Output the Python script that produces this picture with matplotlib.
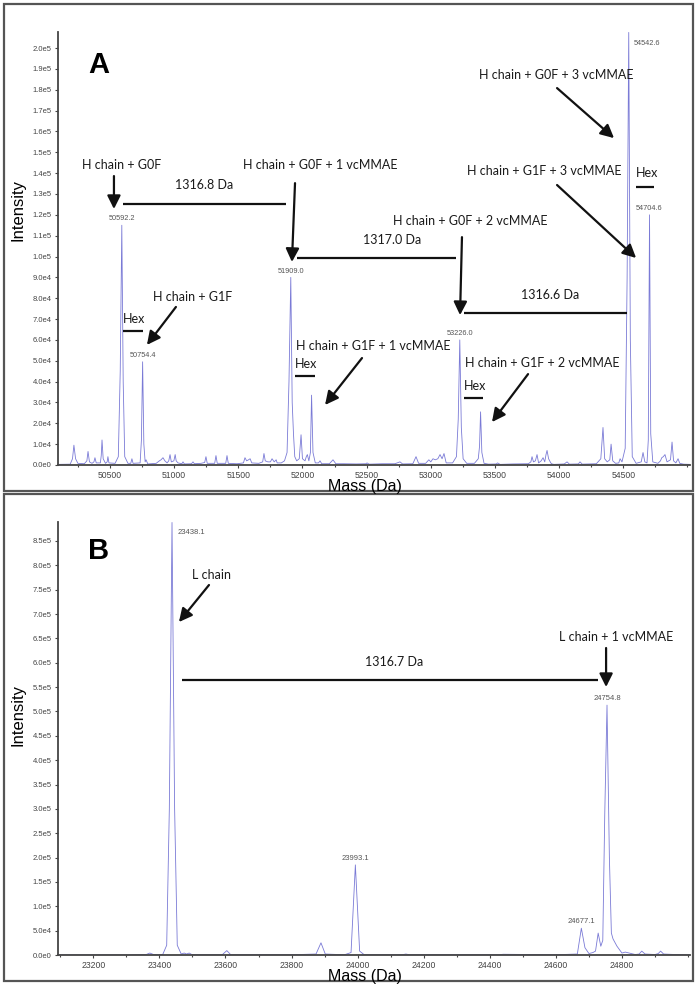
import numpy as np
import matplotlib
matplotlib.use("Agg")
import matplotlib.pyplot as plt
from matplotlib.patches import Rectangle
from matplotlib.ticker import FuncFormatter, MultipleLocator

plt.rcParams['font.family'] = ['Liberation Sans', 'DejaVu Sans']

# ---- Panel A: H chain deconvoluted spectrum (mass in Da, intensity in counts/1000)
a_mass = [50095, 50190, 50208, 50219, 50232, 50250, 50300, 50320, 50329, 50340, 50360, 50375, 50383,
          50393, 50425, 50432, 50438, 50447, 50465, 50478, 50484, 50492, 50540, 50565, 50580, 50592.2,
          50603, 50615, 50640, 50662, 50671, 50680, 50735, 50745, 50754.4, 50764, 50774, 50781, 50795,
          50860, 50885, 50898, 50913, 50928, 50945, 50958, 50968, 50978, 50998, 51008, 51016, 51030,
          51060, 51069, 51080, 51135, 51147, 51158, 51210, 51238, 51248, 51258, 51316, 51326, 51336,
          51402, 51412, 51422, 51490, 51540, 51552, 51565, 51580, 51592, 51605, 51660, 51690, 51700,
          51710, 51730, 51750, 51763, 51780, 51795, 51803, 51835, 51860, 51880, 51895, 51909.0, 51920,
          51930, 51940, 51955, 51975, 51989, 52000, 52020, 52030, 52038, 52050, 52062, 52071, 52082,
          52100, 52125, 52137, 52150, 52210, 52238, 52260, 52320, 52420, 52495, 52503, 52520, 52620,
          52720, 52760, 52780, 52860, 52885, 52905, 52960, 52985, 53000, 53017, 53035, 53055, 53072,
          53088, 53103, 53120, 53170, 53200, 53214, 53226.0, 53238, 53252, 53280, 53340, 53370, 53380,
          53388, 53398, 53415, 53450, 53510, 53520, 53540, 53640, 53760, 53780, 53789, 53800, 53815,
          53828, 53840, 53860, 53875, 53888, 53898, 53906, 53918, 53935, 53945, 53960, 54040, 54062,
          54080, 54150, 54163, 54180, 54290, 54325, 54342, 54355, 54375, 54395, 54405, 54418, 54440,
          54465, 54475, 54490, 54515, 54530, 54542.6, 54555, 54570, 54600, 54640, 54654, 54668, 54685,
          54695, 54704.6, 54714, 54730, 54770, 54790, 54800, 54812, 54825, 54841, 54855, 54868, 54880,
          54892, 54910, 54927, 54940, 54970, 55020]
a_int = [0.3, 0.4, 3.0, 9.5, 3.0, 0.8, 0.6, 2.0, 6.5, 1.5, 0.8, 1.5, 3.5,
         1.0, 1.0, 4.5, 12.0, 3.0, 0.8, 1.5, 4.0, 1.0, 0.8, 4.0, 45.0, 115.0,
         40.0, 4.0, 0.8, 0.8, 3.0, 0.8, 1.0, 12.0, 49.5, 10.0, 1.5, 2.5, 0.5,
         0.8, 2.0, 2.5, 3.5, 2.0, 1.0, 2.0, 5.0, 1.5, 2.0, 5.0, 2.0, 1.0,
         0.6, 1.5, 0.5, 0.6, 1.5, 0.6, 0.8, 1.2, 4.0, 0.8, 0.8, 4.5, 0.8,
         0.8, 4.5, 0.8, 0.6, 1.0, 3.5, 2.0, 2.5, 3.0, 1.0, 0.8, 1.5, 5.5,
         2.0, 1.5, 1.5, 3.0, 1.5, 2.5, 1.0, 1.0, 2.0, 6.0, 40.0, 90.0, 30.0,
         15.0, 4.0, 2.0, 3.0, 14.5, 3.0, 2.0, 4.0, 5.0, 2.0, 6.0, 33.5, 6.0,
         1.0, 1.0, 2.0, 0.6, 0.6, 2.5, 0.6, 0.6, 0.5, 0.6, 1.0, 0.4, 0.6,
         0.6, 1.5, 0.5, 0.6, 4.0, 0.8, 0.8, 2.5, 1.5, 3.0, 2.5, 3.0, 5.0,
         3.0, 5.5, 1.0, 1.0, 4.0, 22.0, 60.0, 18.0, 3.0, 0.8, 0.8, 3.0, 9.0,
         25.5, 6.0, 0.8, 0.4, 0.5, 1.0, 0.3, 0.5, 0.6, 1.5, 4.0, 1.5, 2.0,
         5.0, 1.0, 2.0, 3.5, 1.5, 5.0, 7.0, 3.0, 1.0, 0.5, 0.3, 0.5, 1.5,
         0.4, 0.5, 1.5, 0.4, 0.6, 3.0, 18.0, 3.0, 1.5, 2.5, 10.0, 2.0, 0.8,
         1.0, 3.0, 1.5, 8.0, 90.0, 207.5, 60.0, 4.0, 0.8, 1.5, 6.0, 1.5, 1.0,
         12.0, 120.0, 15.0, 1.5, 0.8, 2.0, 3.5, 4.0, 5.0, 1.5, 2.0, 2.5, 11.0,
         2.0, 1.0, 3.0, 0.8, 0.4, 0.3]
a_labels = ["50592.2", "50754.4", "51909.0", "53226.0", "54704.6"]
a_label_mass = [50592.2, 50754.4, 51909.0, 53226.0, 54704.6]

# ---- Panel B: L chain deconvoluted spectrum
b_mass = [23093, 23300, 23360, 23371, 23382, 23395, 23410, 23422, 23430, 23438.1, 23446, 23454,
          23466, 23475, 23482, 23490, 23498, 23510, 23590, 23604, 23616, 23700, 23800, 23874, 23889,
          23902, 23960, 23980, 23993.1, 24006, 24020, 24135, 24146, 24157, 24300, 24430, 24440,
          24600, 24665, 24677.1, 24688, 24700, 24712, 24720, 24728, 24736, 24742, 24748, 24754.8,
          24762, 24768, 24773, 24785, 24800, 24810, 24840, 24852, 24860, 24870, 24900, 24910, 24917,
          24926, 24960, 25006]
b_int = [0.0, 0.0, 1.0, 4.0, 1.0, 0.5, 1.0, 20.0, 300.0, 888.0, 300.0, 20.0,
         2.0, 4.0, 2.0, 4.0, 1.0, 0.5, 0.5, 9.0, 0.5, 0.5, 0.5, 2.0, 25.0,
         2.0, 0.5, 5.0, 185.0, 8.0, 0.5, 0.5, 2.0, 0.5, 0.5, 0.5, 1.5,
         0.5, 2.0, 55.0, 15.0, 3.0, 5.0, 8.0, 45.0, 18.0, 30.0, 290.0, 513.0,
         200.0, 45.0, 33.0, 18.0, 4.0, 6.0, 1.0, 2.0, 8.0, 2.0, 1.0, 3.0, 8.0,
         2.0, 1.0, 0.0]
b_labels = ["23993.1", "24677.1", "24754.8"]
b_label_mass = [23993.1, 24677.1, 24754.8]

W, H = 698, 986
fig = plt.figure(figsize=(W / 100, H / 100), dpi=100)

# panel frames
fig.patches.append(Rectangle((4 / W, 1 - 491 / H), 689 / W, 487 / H, transform=fig.transFigure,
                             fill=False, ec='#555555', lw=1.6))
fig.patches.append(Rectangle((4 / W, 1 - 981 / H), 689 / W, 487 / H, transform=fig.transFigure,
                             fill=False, ec='#555555', lw=1.6))


def sci(v, pos):
    if v == 0:
        return "0.0e0"
    e = int(np.floor(np.log10(abs(v)) + 1e-9))
    return f"{v / 10 ** e:.1f}e{e}"


def style_axes(ax):
    for s in ['top', 'right']:
        ax.spines[s].set_visible(False)
    for s in ['left', 'bottom']:
        ax.spines[s].set_color('#444444')
        ax.spines[s].set_linewidth(1.3)
    ax.tick_params(which='both', direction='out', colors='#444444', width=0.8)
    ax.tick_params(axis='y', labelsize=5.5)
    ax.tick_params(axis='x', labelsize=6.2)
    ax.tick_params(which='major', length=2.5, pad=2)
    ax.tick_params(which='minor', length=1.5)
    ax.yaxis.set_major_formatter(FuncFormatter(sci))


line_color = '#7a7ad6'
txt = dict(family=['Lato', 'DejaVu Sans'], fontsize=9.0, color='#1a1a1a')
arrow = dict(arrowstyle='-|>', color='#111111', lw=1.6, mutation_scale=20, shrinkA=0, shrinkB=0)


def arr(ax, x0, y0, x1, y1):
    ax.annotate('', xy=(x1, y1), xytext=(x0, y0), arrowprops=arrow)


# ======================= Panel A =======================
axA = fig.add_axes([58 / W, 1 - 465 / H, 632 / W, 433 / H])
a_y = np.array(a_int) * 1e3
axA.plot(a_mass, a_y, color=line_color, lw=0.6)
axA.set_xlim(50095, 55020)
axA.set_ylim(0, 2.077e5)
axA.yaxis.set_major_locator(MultipleLocator(1e4))
axA.set_xticks(np.arange(50500, 55000, 500))
axA.xaxis.set_minor_locator(MultipleLocator(250))
style_axes(axA)

for lab, m in zip(a_labels, a_label_mass):
    h = np.interp(m, a_mass, a_y)
    axA.annotate(lab, (m, h), xytext=(0, 2), textcoords='offset points', ha='center', va='bottom',
                 fontsize=5.3, color='#555555')
axA.text(54584, 2.02e5, "54542.6", ha='left', va='center', fontsize=5.3, color='#555555')

axA.text(50414, 1.918e5, "A", fontsize=21, fontweight='bold', ha='center', va='center')

axA.text(50594, 1.439e5, "H chain + G0F", ha='center', va='center', **txt)
arr(axA, 50531, 1.386e5, 50531, 1.228e5)
axA.hlines(1.252e5, 50601, 51872, color='#111111', lw=1.6)
axA.text(51233, 1.343e5, "1316.8 Da", ha='center', va='center', **txt)

axA.text(52137, 1.439e5, "H chain + G0F + 1 vcMMAE", ha='center', va='center', **txt)
arr(axA, 51942, 1.352e5, 51918, 0.974e5)
axA.hlines(0.993e5, 51957, 53197, color='#111111', lw=1.6)
axA.text(52700, 1.080e5, "1317.0 Da", ha='center', va='center', **txt)

axA.text(53306, 1.170e5, "H chain + G0F + 2 vcMMAE", ha='center', va='center', **txt)
arr(axA, 53243, 1.093e5, 53228, 0.719e5)
axA.hlines(0.729e5, 53259, 54530, color='#111111', lw=1.6)
axA.text(53929, 0.815e5, "1316.6 Da", ha='center', va='center', **txt)

axA.text(53976, 1.870e5, "H chain + G0F + 3 vcMMAE", ha='center', va='center', **txt)
arr(axA, 53984, 1.808e5, 54428, 1.568e5)
axA.text(53883, 1.410e5, "H chain + G1F + 3 vcMMAE", ha='center', va='center', **txt)
arr(axA, 53984, 1.343e5, 54600, 0.993e5)
axA.text(54685, 1.400e5, "Hex", ha='center', va='center', **txt)
axA.hlines(1.333e5, 54600, 54740, color='#111111', lw=1.6)

axA.text(51147, 0.806e5, "H chain + G1F", ha='center', va='center', **txt)
arr(axA, 51014, 0.758e5, 50788, 0.576e5)
axA.text(50687, 0.700e5, "Hex", ha='center', va='center', **txt)
axA.hlines(0.643e5, 50601, 50757, color='#111111', lw=1.6)

axA.text(52550, 0.571e5, "H chain + G1F + 1 vcMMAE", ha='center', va='center', **txt)
axA.text(52028, 0.484e5, "Hex", ha='center', va='center', **txt)
axA.hlines(0.427e5, 51942, 52098, color='#111111', lw=1.6)
arr(axA, 52464, 0.513e5, 52176, 0.288e5)

axA.text(53867, 0.489e5, "H chain + G1F + 2 vcMMAE", ha='center', va='center', **txt)
axA.text(53345, 0.379e5, "Hex", ha='center', va='center', **txt)
axA.hlines(0.321e5, 53259, 53407, color='#111111', lw=1.6)
arr(axA, 53758, 0.436e5, 53477, 0.206e5)

fig.text(18 / W, 1 - 210 / H, "Intensity", rotation=90, ha='center', va='center', fontsize=12)
fig.text(365 / W, 1 - 487 / H, "Mass (Da)", ha='center', va='center', fontsize=11.5)

# ======================= Panel B =======================
axB = fig.add_axes([58 / W, 1 - 955 / H, 632 / W, 433 / H])
b_y = np.array(b_int) * 1e3
axB.plot(b_mass, b_y, color=line_color, lw=0.6)
axB.set_xlim(23093, 25006)
axB.set_ylim(0, 8.89e5)
axB.yaxis.set_major_locator(MultipleLocator(5e4))
axB.set_xticks(np.arange(23200, 25000, 200))
axB.xaxis.set_minor_locator(MultipleLocator(100))
style_axes(axB)

for lab, m in zip(b_labels, b_label_mass):
    h = np.interp(m, b_mass, b_y)
    axB.annotate(lab, (m, h), xytext=(0, 2), textcoords='offset points', ha='center', va='bottom',
                 fontsize=5.5, color='#555555')
axB.text(23456, 8.68e5, "23438.1", ha='left', va='center', fontsize=5.5, color='#555555')

axB.text(23217, 8.294e5, "B", fontsize=21, fontweight='bold', ha='center', va='center')
axB.text(23559, 7.801e5, "L chain", ha='center', va='center', **txt)
arr(axB, 23550, 7.596e5, 23459, 6.836e5)
axB.hlines(5.646e5, 23468, 24727, color='#111111', lw=1.6)
axB.text(24110, 6.015e5, "1316.7 Da", ha='center', va='center', **txt)
axB.text(24782, 6.529e5, "L chain + 1 vcMMAE", ha='center', va='center', **txt)
arr(axB, 24752, 6.303e5, 24752, 5.502e5)

fig.text(18 / W, 1 - 715 / H, "Intensity", rotation=90, ha='center', va='center', fontsize=12)
fig.text(365 / W, 1 - 976 / H, "Mass (Da)", ha='center', va='center', fontsize=11.5)

fig.savefig("out.png", dpi=100)
